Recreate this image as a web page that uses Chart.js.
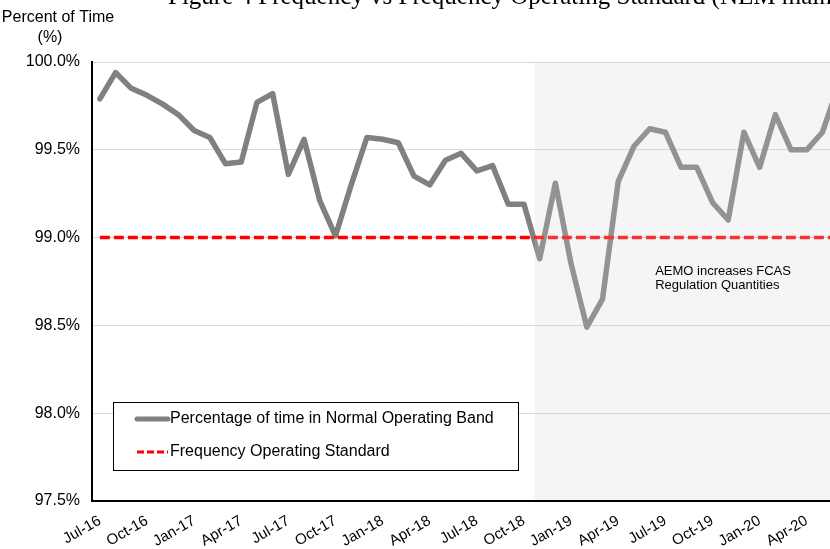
<!DOCTYPE html>
<html>
<head>
<meta charset="utf-8">
<script src="https://cdn.jsdelivr.net/npm/chart.js@4.4.0/dist/chart.umd.min.js"></script>
<style>
  html, body { margin: 0; padding: 0; background: #fff; overflow: hidden; }
  #wrap { position: relative; width: 830px; height: 549px; overflow: hidden; }
  #box { position: absolute; left: 0; top: 0; width: 880px; height: 549px; }
  #title { position: absolute; top: -18px; left: 168px; white-space: nowrap;
           font-family: "Liberation Serif", "Times New Roman", serif; font-size: 25px; color: #000; }
</style>
</head>
<body>
<div id="wrap">
  <div id="box"><canvas id="chart1"></canvas></div>
  <div id="title">Figure 4 Frequency vs Frequency Operating Standard (NEM mainland)</div>
</div>
<script>
const months = [
  'Jul-16','Aug-16','Sep-16','Oct-16','Nov-16','Dec-16',
  'Jan-17','Feb-17','Mar-17','Apr-17','May-17','Jun-17','Jul-17','Aug-17','Sep-17','Oct-17','Nov-17','Dec-17',
  'Jan-18','Feb-18','Mar-18','Apr-18','May-18','Jun-18','Jul-18','Aug-18','Sep-18','Oct-18','Nov-18','Dec-18',
  'Jan-19','Feb-19','Mar-19','Apr-19','May-19','Jun-19','Jul-19','Aug-19','Sep-19','Oct-19','Nov-19','Dec-19',
  'Jan-20','Feb-20','Mar-20','Apr-20','May-20','Jun-20'
];

// % of time frequency stayed inside the normal operating band
const normalBand = [
  99.79, 99.94, 99.85, 99.81, 99.76, 99.70,
  99.61, 99.57, 99.42, 99.43, 99.77, 99.82, 99.36, 99.56, 99.21, 99.01, 99.30, 99.57,
  99.56, 99.54, 99.35, 99.30, 99.44, 99.48, 99.38, 99.41, 99.19, 99.19, 98.88, 99.31,
  98.85, 98.49, 98.65, 99.32, 99.52, 99.62, 99.60, 99.40, 99.40, 99.20, 99.10, 99.60,
  99.40, 99.70, 99.50, 99.50, 99.60, 99.86
];

const standardLevel = 99.0;
const yTicks = [97.5, 98.0, 98.5, 99.0, 99.5, 100.0];

// shaded period (category index) and its note
const shadeFrom = 27.67;
const noteLines = ['AEMO increases FCAS', 'Regulation Quantities'];
const noteAt = [35.35, 98.81];

const FONT = '"Liberation Sans", Arial, sans-serif';

const extras = {
  id: 'extras',
  afterDatasetsDraw(chart) {
    const { ctx, chartArea: a, scales: { x, y } } = chart;
    const x0 = x.getPixelForValue(shadeFrom);
    ctx.save();
    ctx.fillStyle = 'rgba(212,212,212,0.23)';
    ctx.fillRect(x0, a.top, a.right - x0, a.bottom - a.top - 1);

    ctx.fillStyle = '#000';
    ctx.font = '13px ' + FONT;
    ctx.textBaseline = 'middle';
    ctx.textAlign = 'left';
    const nx = x.getPixelForValue(noteAt[0]), ny = y.getPixelForValue(noteAt[1]);
    noteLines.forEach((t, i) => ctx.fillText(t, nx, ny + i * 14));
    ctx.restore();
  },
  afterDraw(chart) {
    const { ctx } = chart;
    const ds = chart.data.datasets;
    ctx.save();
    // unit label
    ctx.fillStyle = '#000';
    ctx.font = '16px ' + FONT;
    ctx.textAlign = 'center';
    ctx.textBaseline = 'middle';
    ctx.fillText('Percent of Time', 58, 18);
    ctx.fillText('(%)', 50, 38);

    // legend box
    ctx.fillStyle = '#fff';
    ctx.fillRect(113, 402, 405, 68);
    ctx.strokeStyle = '#000';
    ctx.lineWidth = 1;
    ctx.strokeRect(113.5, 402.5, 405, 68);

    const rows = [419, 452];
    ds.forEach((d, i) => {
      ctx.beginPath();
      ctx.strokeStyle = d.borderColor;
      ctx.lineWidth = i === 0 ? 5 : 3;
      ctx.lineCap = i === 0 ? 'round' : 'butt';
      ctx.setLineDash(i === 0 ? [] : [7, 3]);
      ctx.moveTo(137, rows[i]);
      ctx.lineTo(168, rows[i]);
      ctx.stroke();
      ctx.setLineDash([]);
      ctx.fillStyle = '#000';
      ctx.textAlign = 'left';
      ctx.fillText(d.label, 170, rows[i]);
    });
    ctx.restore();
  }
};

new Chart(document.getElementById('chart1'), {
  type: 'line',
  data: {
    labels: months,
    datasets: [
      { label: 'Percentage of time in Normal Operating Band', data: normalBand,
        borderColor: '#808080', borderWidth: 5.5, pointRadius: 0, tension: 0,
        borderJoinStyle: 'round', borderCapStyle: 'round', order: 1 },
      { label: 'Frequency Operating Standard', data: months.map(() => standardLevel),
        borderColor: '#ff0000', borderWidth: 3.5, borderDash: [10, 4], pointRadius: 0, order: 0 }
    ]
  },
  options: {
    responsive: true,
    maintainAspectRatio: false,
    animation: false,
    layout: { padding: { top: 62, right: 34, bottom: 0, left: 0 } },
    plugins: { legend: { display: false }, tooltip: { enabled: false }, title: { display: false } },
    scales: {
      x: {
        offset: true,
        grid: { display: false, drawTicks: false },
        border: { color: '#000', width: 2 },
        ticks: {
          autoSkip: false, minRotation: 30, maxRotation: 30, padding: 11,
          color: '#000', font: { family: FONT, size: 15 },
          callback: (v, i) => (i % 3 === 0 ? months[i] : '')
        },
        afterFit: s => { s.height = 48; }
      },
      y: {
        min: 97.5, max: 100,
        grid: { color: '#d9d9d9', drawTicks: false },
        border: { color: '#000', width: 2 },
        afterBuildTicks: s => { s.ticks = yTicks.map(v => ({ value: v })); },
        ticks: {
          padding: 12, color: '#000', font: { family: FONT, size: 16 },
          callback: v => v.toFixed(1) + '%'
        },
        afterFit: s => { s.width = 92; }
      }
    }
  },
  plugins: [extras]
});
</script>
</body>
</html>
